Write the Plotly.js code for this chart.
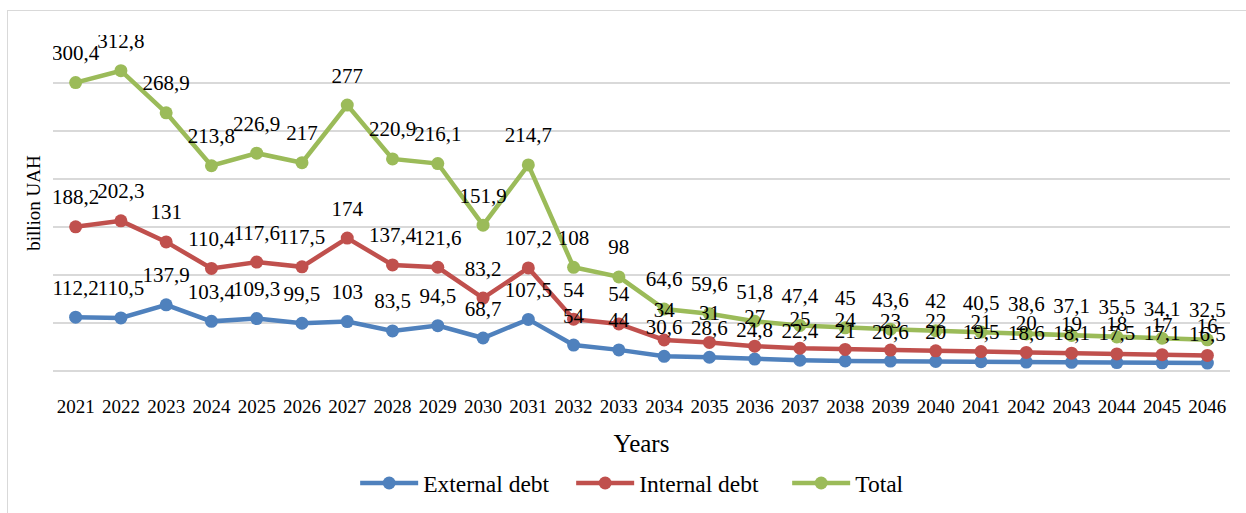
<!DOCTYPE html>
<html>
<head>
<meta charset="utf-8">
<script src="https://cdn.plot.ly/plotly-3.0.1.min.js"></script>
<style>
  html, body { margin: 0; padding: 0; background: #ffffff; }
  #frame { position: absolute; left: 7px; top: 10px; width: 1260px; height: 530px; border: 1.5px solid #d9d9d9; box-sizing: border-box; }
  #chart { position: absolute; left: 0; top: 0; width: 1246px; height: 513px; }
</style>
</head>
<body>
<div id="frame"></div>
<div id="chart"></div>
<script>
const years = ['2021','2022','2023','2024','2025','2026','2027','2028','2029','2030','2031','2032','2033',
               '2034','2035','2036','2037','2038','2039','2040','2041','2042','2043','2044','2045','2046'];
const externalDebt = [112.2,110.5,137.9,103.4,109.3,99.5,103,83.5,94.5,68.7,107.5,54,44,
                      30.6,28.6,24.8,22.4,21,20.6,20,19.5,18.6,18.1,17.5,17.1,16.5];
const internalDebt = [188.2,202.3,131,110.4,117.6,117.5,174,137.4,121.6,83.2,107.2,54,54,
                      34,31,27,25,24,23,22,21,20,19,18,17,16];
const totalDebt = [300.4,312.8,268.9,213.8,226.9,217,277,220.9,216.1,151.9,214.7,108,98,
                   64.6,59.6,51.8,47.4,45,43.6,42,40.5,38.6,37.1,35.5,34.1,32.5];

const seriesNames = ['External debt','Internal debt','Total'];
const seriesData = [externalDebt, internalDebt, totalDebt];
const seriesColors = ['#4F81BD','#C0504D','#9BBB59'];

const FONT = 'Liberation Serif, Times New Roman, serif';
const fmt = v => String(v).replace('.', ',');

const traces = [];
seriesData.forEach((vals, i) => {
  traces.push({
    type: 'scatter', mode: 'lines+markers', name: seriesNames[i],
    x: years, y: vals, stackgroup: 'lines', fill: 'none',
    line: { color: seriesColors[i], width: 4.5 },
    marker: { color: seriesColors[i], size: 13 },
    hoverinfo: 'skip'
  });
});
seriesData.forEach((vals, i) => {
  traces.push({
    type: 'scatter', mode: 'markers+text', showlegend: false,
    x: years, y: vals, stackgroup: 'labels', fill: 'none',
    text: vals.map(fmt), textposition: 'top center',
    textfont: { family: FONT, size: 21, color: '#000000' },
    marker: { color: 'rgba(0,0,0,0)', size: 26 },
    hoverinfo: 'skip'
  });
});

const layout = {
  width: 1246, height: 513,
  margin: { l: 53, r: 16, t: 35, b: 142 },
  paper_bgcolor: 'rgba(0,0,0,0)', plot_bgcolor: 'rgba(0,0,0,0)',
  font: { family: FONT, color: '#000000' },
  showlegend: true,
  legend: {
    orientation: 'h', x: 0.532, xanchor: 'center', yref: 'container', y: 0.058, yanchor: 'middle',
    font: { family: FONT, size: 23.5, color: '#000000' }, itemwidth: 58, traceorder: 'normal',
    entrywidth: 143, entrywidthmode: 'pixels'
  },
  xaxis: {
    type: 'category', range: [-0.5, 25.5], showgrid: false, zeroline: false,
    showline: false, ticks: 'outside', ticklen: 18, tickcolor: 'rgba(0,0,0,0)',
    tickfont: { family: FONT, size: 19, color: '#000000' },
    title: { text: 'Years', font: { family: FONT, size: 25, color: '#000000' }, standoff: 18 },
    fixedrange: true
  },
  yaxis: {
    range: [0, 700], dtick: 100, showticklabels: false, ticks: '',
    showgrid: true, gridcolor: '#d9d9d9', gridwidth: 1.4,
    zeroline: true, zerolinecolor: '#d9d9d9', zerolinewidth: 1.4,
    title: { text: 'billion UAH', font: { family: FONT, size: 19, color: '#000000' }, standoff: 6 },
    fixedrange: true
  }
};

Plotly.newPlot('chart', traces, layout, { displayModeBar: false, staticPlot: true });
</script>
</body>
</html>
